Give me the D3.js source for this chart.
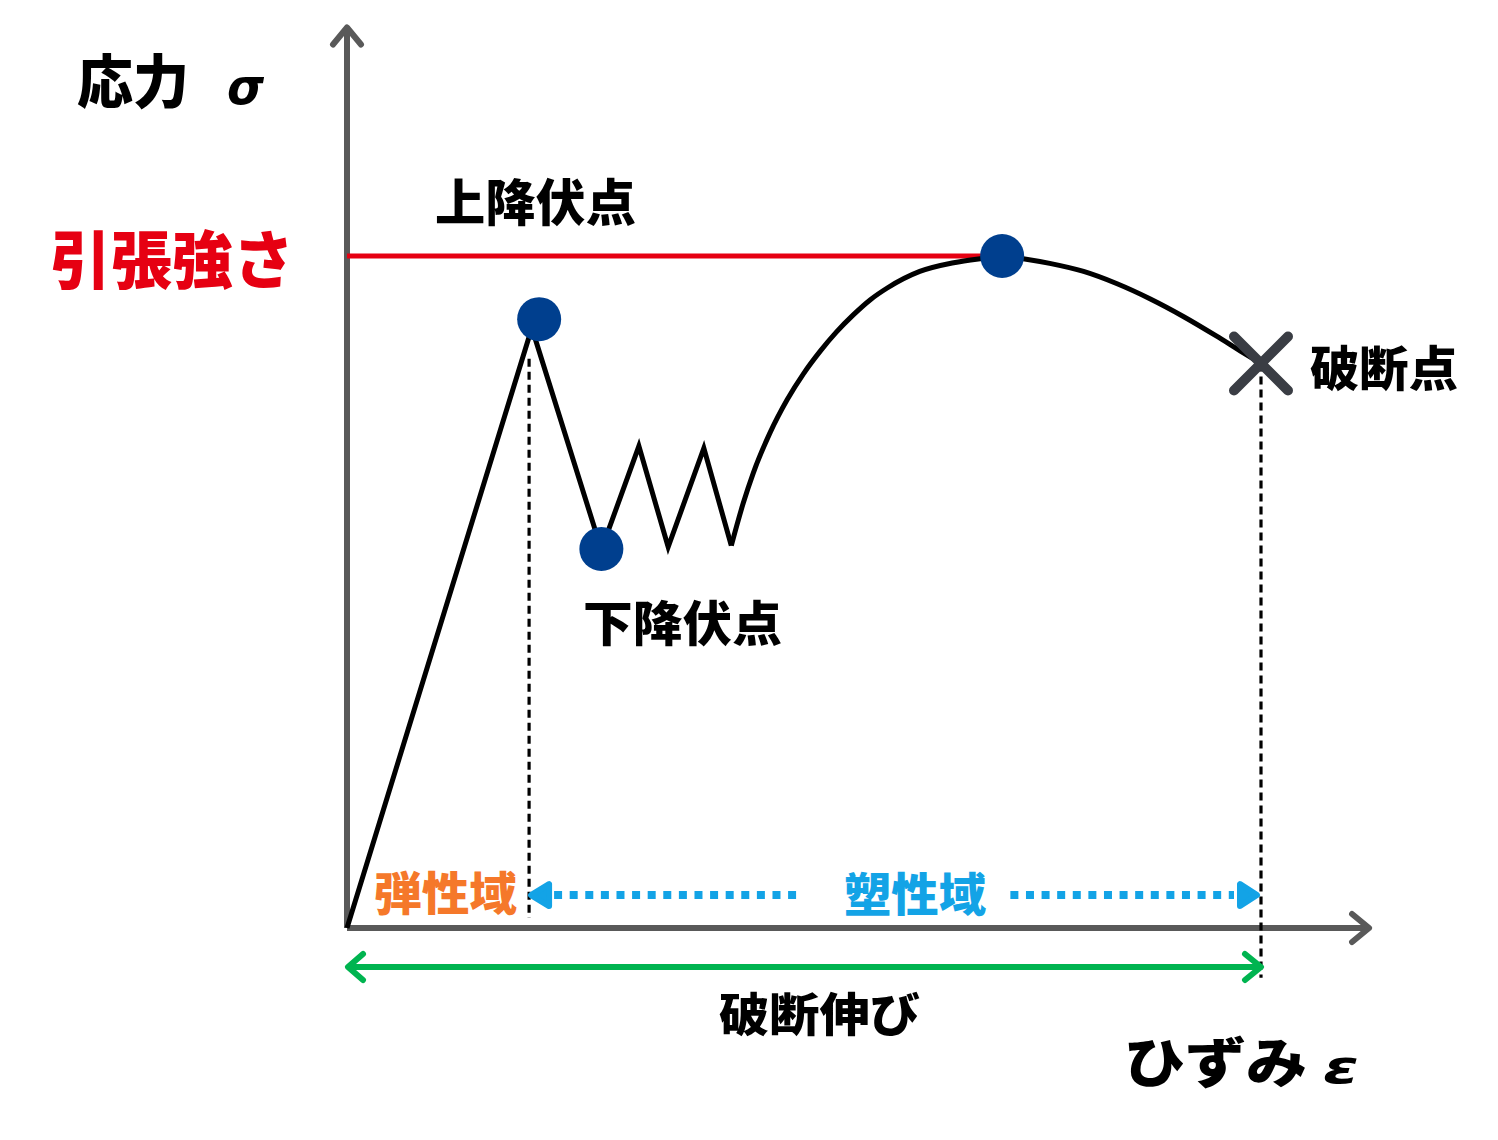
<!DOCTYPE html>
<html>
<head>
<meta charset="utf-8">
<script src="https://cdn.jsdelivr.net/npm/d3@7"></script>
<style>
html,body{margin:0;padding:0;background:#fff;}
svg{display:block;}
</style>
</head>
<body>
<svg id="chart" width="1498" height="1140"></svg>
<script>
// ---- data (strain in % of breaking elongation, stress in % of tensile strength) ----
const elasticLine = [[0, 0], [20.2, 89.3]];
const yieldZigzag = [[20.2, 89.3], [27.8, 56.3], [31.9, 71.7], [35.1, 56.7], [39.0, 71.4], [42.0, 56.9]];
const hardeningCurve = [
  [42.0, 56.9], [43.3, 63.2], [44.4, 67.7], [46.2, 73.6], [48.1, 78.6], [49.9, 82.5],
  [51.7, 85.8], [53.5, 88.7], [55.3, 91.2], [57.2, 93.5], [59.0, 95.2], [62.6, 97.7],
  [66.3, 99.0], [69.2, 99.6], [71.8, 100.0], [73.9, 99.6], [76.8, 98.9], [80.5, 97.7],
  [84.1, 95.9], [87.8, 93.6], [91.4, 91.0], [95.0, 88.1], [97.6, 85.9], [100, 83.9]
];
const keyPoints = [
  {name: "上降伏点", x: 21.0, y: 90.6},
  {name: "下降伏点", x: 27.8, y: 56.4},
  {name: "引張強さ", x: 71.6, y: 100.0}
];
const breakPoint = {name: "破断点", x: 100, y: 84.0};
const tensileStrength = 100;
const elasticLimitStrain = 19.9;
const breakStrain = 100;
const axisMax = {x: 111.7, y: 134.0};

// ---- scales ----
const x = d3.scaleLinear().domain([0, 100]).range([347, 1262]);
const y = d3.scaleLinear().domain([0, 100]).range([928, 256]);

const svg = d3.select("#chart");
const JP = "'Noto Sans CJK JP','Noto Sans CJK SC',sans-serif";

// axes
const axisColor = "#595959";
svg.append("line").attr("x1", x(0)).attr("y1", y(0)).attr("x2", x(0)).attr("y2", y(axisMax.y))
  .attr("stroke", axisColor).attr("stroke-width", 6);
svg.append("path").attr("d", `M${x(0)-14},${y(axisMax.y)+17} L${x(0)},${y(axisMax.y)} L${x(0)+14},${y(axisMax.y)+17}`)
  .attr("fill", "none").attr("stroke", axisColor).attr("stroke-width", 6)
  .attr("stroke-linecap", "round").attr("stroke-linejoin", "round");
svg.append("line").attr("x1", x(0)).attr("y1", y(0)).attr("x2", x(axisMax.x)).attr("y2", y(0))
  .attr("stroke", axisColor).attr("stroke-width", 6);
svg.append("path").attr("d", `M${x(axisMax.x)-17},${y(0)-14} L${x(axisMax.x)},${y(0)} L${x(axisMax.x)-17},${y(0)+14}`)
  .attr("fill", "none").attr("stroke", axisColor).attr("stroke-width", 6)
  .attr("stroke-linecap", "round").attr("stroke-linejoin", "round");

// tensile strength line
svg.append("line").attr("x1", x(0)).attr("y1", y(tensileStrength)).attr("x2", x(keyPoints[2].x)).attr("y2", y(tensileStrength))
  .attr("stroke", "#e60012").attr("stroke-width", 5);

// dashed verticals
svg.append("line").attr("x1", x(elasticLimitStrain)).attr("x2", x(elasticLimitStrain))
  .attr("y1", y(84.7)).attr("y2", y(1.5))
  .attr("stroke", "#000").attr("stroke-width", 3.2).attr("stroke-dasharray", "8,5");
svg.append("line").attr("x1", x(breakStrain) - 1).attr("x2", x(breakStrain) - 1)
  .attr("y1", y(breakPoint.y)).attr("y2", y(-7.4))
  .attr("stroke", "#000").attr("stroke-width", 3.2).attr("stroke-dasharray", "8,5");

// curve
const lin = d3.line().x(d => x(d[0])).y(d => y(d[1]));
const smooth = d3.line().x(d => x(d[0])).y(d => y(d[1])).curve(d3.curveMonotoneX);
svg.append("path").attr("d", lin(elasticLine.concat(yieldZigzag.slice(1))))
  .attr("fill", "none").attr("stroke", "#000").attr("stroke-width", 5).attr("stroke-linejoin", "miter");
svg.append("path").attr("d", smooth(hardeningCurve))
  .attr("fill", "none").attr("stroke", "#000").attr("stroke-width", 5);

// key points
svg.selectAll("circle.kp").data(keyPoints).join("circle").attr("class", "kp")
  .attr("cx", d => x(d.x)).attr("cy", d => y(d.y)).attr("r", 22).attr("fill", "#003f8e");

// break X
const bx = x(breakPoint.x) - 1, by = y(breakPoint.y);
svg.append("path").attr("d", `M${bx-27},${by-27} L${bx+27},${by+27} M${bx+27},${by-27} L${bx-27},${by+27}`)
  .attr("stroke", "#3a3d44").attr("stroke-width", 10).attr("stroke-linecap", "round");

// plastic region arrows (blue dotted)
const blue = "#13a3e6";
const ya = y(4.9);
svg.append("line").attr("x1", x(elasticLimitStrain) + 25).attr("x2", x(49.5)).attr("y1", ya).attr("y2", ya)
  .attr("stroke", blue).attr("stroke-width", 8).attr("stroke-dasharray", "8,7.6");
svg.append("line").attr("x1", x(72.5)).attr("x2", x(breakStrain) - 28).attr("y1", ya).attr("y2", ya)
  .attr("stroke", blue).attr("stroke-width", 8).attr("stroke-dasharray", "8,7.6");
const lt = x(elasticLimitStrain) - 1;
svg.append("path").attr("d", `M${lt+3},${ya} L${lt+21},${ya-11} L${lt+21},${ya+11} Z`)
  .attr("fill", blue).attr("stroke", blue).attr("stroke-width", 6).attr("stroke-linejoin", "round");
const rt = x(breakStrain) - 2;
svg.append("path").attr("d", `M${rt-3},${ya} L${rt-20},${ya-11} L${rt-20},${ya+11} Z`)
  .attr("fill", blue).attr("stroke", blue).attr("stroke-width", 6).attr("stroke-linejoin", "round");

// elongation at break (green)
const green = "#00b450";
const yg = y(-5.8);
svg.append("line").attr("x1", x(0) + 2).attr("x2", x(breakStrain) - 2).attr("y1", yg).attr("y2", yg)
  .attr("stroke", green).attr("stroke-width", 6);
svg.append("path").attr("d", `M${x(0)+16},${yg-13} L${x(0)+1},${yg} L${x(0)+16},${yg+13}`)
  .attr("fill", "none").attr("stroke", green).attr("stroke-width", 6).attr("stroke-linecap", "round").attr("stroke-linejoin", "round");
svg.append("path").attr("d", `M${x(breakStrain)-17},${yg-13} L${x(breakStrain)-1},${yg} L${x(breakStrain)-17},${yg+13}`)
  .attr("fill", "none").attr("stroke", green).attr("stroke-width", 6).attr("stroke-linecap", "round").attr("stroke-linejoin", "round");

// ---- text labels ----
function label(t, left, bottom, fs, width, color, family, style) {
  const el = svg.append("text").attr("x", left).attr("y", bottom - 0.07 * fs)
    .attr("font-family", family || JP).attr("font-weight", 900).attr("font-size", fs)
    .attr("fill", color || "#000").attr("textLength", width).attr("lengthAdjust", "spacingAndGlyphs")
    .text(t);
  if (style) el.attr("font-style", style);
  return el;
}
const GREEK = "'DejaVu Sans',sans-serif";
label("応力", 77, 107, 58, 112);
svg.append("text").attr("x", 227).attr("y", 104).attr("font-family", GREEK).attr("font-weight", "bold")
  .attr("font-style", "italic").attr("font-size", 50).attr("textLength", 37).attr("lengthAdjust", "spacingAndGlyphs").text("σ");
label("引張強さ", 50, 287, 63, 244, "#e60012");
label("上降伏点", 435, 224, 50, 201);
label("下降伏点", 583, 644, 48, 199);
label("破断点", 1310, 389, 48, 148);
label("破断伸び", 719, 1034, 46, 201);
label("ひずみ", 1124, 1087, 54, 183);
svg.append("text").attr("x", 1323).attr("y", 1083).attr("font-family", GREEK).attr("font-weight", "bold")
  .attr("font-style", "italic").attr("font-size", 46).attr("textLength", 36).attr("lengthAdjust", "spacingAndGlyphs").text("ε");
label("弾性域", 374, 913, 46, 143, "#f5782a");
label("塑性域", 844, 914, 46, 142, blue);
</script>
</body>
</html>
